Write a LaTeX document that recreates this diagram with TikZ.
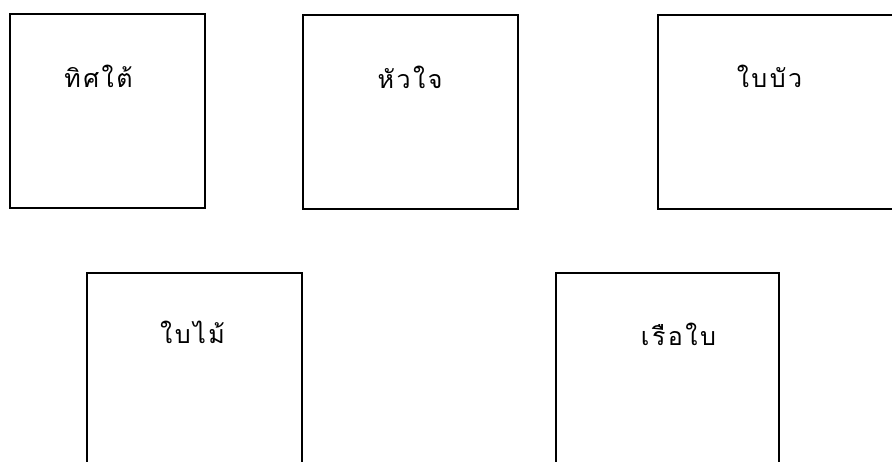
\documentclass[tikz,border=0pt]{standalone}
\usepackage{fontspec}
\newfontfamily\thaifont[Script=Thai,LetterSpace=10]{Loma}
\tikzset{
  box/.style={draw=black, line width=2.7pt, fill=none, inner sep=0pt},
  lbl/.style={font=\thaifont\fontsize{25}{29}\selectfont, inner sep=0pt, anchor=base, text=black}
}
\begin{document}
\begin{tikzpicture}[x=1pt,y=-1pt]
\useasboundingbox (0,0) rectangle (892,461);
\fill[white] (0,0) rectangle (892,461);
\clip (0,0) rectangle (892,461);
\node[box, minimum width=195pt, minimum height=194pt] (b1) at (107.5,111) {};
\node[box, minimum width=215pt, minimum height=194pt] (b2) at (410.5,112) {};
\node[box, minimum width=252pt, minimum height=194pt] (b3) at (784,112) {};
\node[box, minimum width=215pt, minimum height=197pt] (b4) at (194.5,371.5) {};
\node[box, minimum width=223pt, minimum height=197pt] (b5) at (667.5,371.5) {};
\node[lbl] (t1) at (98.5,87) {ทิศใต้};
\node[lbl] (t2) at (410,88) {หัวใจ};
\node[lbl] (t3) at (769.5,87) {ใบบัว};
\node[lbl] (t4) at (192.5,343) {ใบไม้};
\node[lbl] (t5) at (678.5,345) {เรือใบ};
\end{tikzpicture}
\end{document}
